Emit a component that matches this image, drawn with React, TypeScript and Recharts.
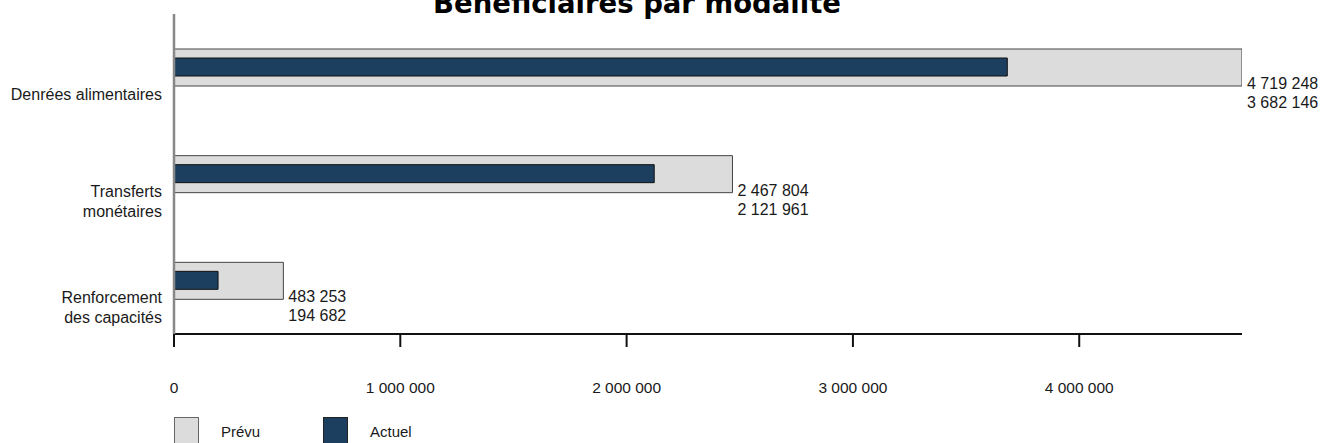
import React from 'react';
import { BarChart, Bar, XAxis, YAxis, Legend, LabelList } from 'recharts';

const categories: string[][] = [
  ['Denrées alimentaires'],
  ['Transferts', 'monétaires'],
  ['Renforcement', 'des capacités'],
];
const prevu: number[] = [4719248, 2467804, 483253];
const actuel: number[] = [3682146, 2121961, 194682];
const xTicks: number[] = [0, 1000000, 2000000, 3000000, 4000000];
const seriesNames = { prevu: 'Prévu', actuel: 'Actuel' };
const title = 'Bénéficiaires par modalité';

const rows = categories.map((c, i) => ({
  name: c.join(' '),
  lines: c,
  prevu: prevu[i],
  actuel: actuel[i],
}));

const FONT = '"Liberation Sans", Arial, sans-serif';
const PREVU_FILL = '#dcdcdc';
const ACTUEL_FILL = '#1d3f5f';

const fmt = (n: number) => String(Math.round(n)).replace(/\B(?=(\d{3})+(?!\d))/g, ' ');

const CategoryTick = (props: any) => {
  const { x, y, payload, index } = props;
  const lines: string[] = rows[index] ? rows[index].lines : [String(payload.value)];
  const lh = 20;
  const startY = y + 27 - ((lines.length - 1) * lh) / 2;
  return (
    <text x={x} textAnchor="end" fontFamily={FONT} fontSize={16} fill="#1a1a1a">
      {lines.map((l, i) => (
        <tspan key={i} x={x} y={startY + i * lh} dy="0.35em">
          {l}
        </tspan>
      ))}
    </text>
  );
};

const ValueLabels = (props: any) => {
  const { x, y, width, height, index } = props;
  const lx = x + width + 5;
  const cy = y + height / 2;
  return (
    <g fontFamily={FONT} fontSize={16} fill="#1a1a1a">
      <text x={lx} y={cy + 16} dy="0.35em">{fmt(prevu[index])}</text>
      <text x={lx} y={cy + 35} dy="0.35em">{fmt(actuel[index])}</text>
    </g>
  );
};

const LegendContent = () => (
  <div style={{ position: 'relative', height: 26, width: 300, fontFamily: FONT, fontSize: 15, color: '#1a1a1a' }}>
    <div style={{ position: 'absolute', left: 0, top: 0, width: 25, height: 30, boxSizing: 'border-box', background: PREVU_FILL, border: '1px solid #666' }} />
    <span style={{ position: 'absolute', left: 47, top: 6 }}>{seriesNames.prevu}</span>
    <div style={{ position: 'absolute', left: 149, top: 0, width: 25, height: 30, boxSizing: 'border-box', background: ACTUEL_FILL, border: '1px solid #222' }} />
    <span style={{ position: 'absolute', left: 196, top: 6 }}>{seriesNames.actuel}</span>
  </div>
);

export default function App() {
  return (
    <div style={{ position: 'absolute', left: 0, top: 0, width: 1322, height: 443, overflow: 'hidden', background: '#fff' }}>
      <BarChart
        width={1322}
        height={443}
        data={rows}
        layout="vertical"
        margin={{ top: 14, right: 80, bottom: 0, left: 8 }}
        barCategoryGap={0}
      >
        <XAxis
          type="number"
          domain={[0, 'dataMax']}
          ticks={xTicks}
          tickFormatter={fmt}
          axisLine={{ stroke: '#111', strokeWidth: 2 }}
          tickLine={{ stroke: '#111', strokeWidth: 2 }}
          tickSize={13}
          tickMargin={35}
          height={83}
          tick={{ fontFamily: FONT, fontSize: 15.5, fill: '#1a1a1a' }}
          allowDataOverflow
        />
        <YAxis
          yAxisId="a"
          type="category"
          dataKey="name"
          width={166}
          tickSize={0}
          tickMargin={12}
          tickLine={false}
          axisLine={{ stroke: '#888', strokeWidth: 2.5 }}
          tick={<CategoryTick />}
          interval={0}
        />
        <YAxis yAxisId="b" type="category" dataKey="name" hide />
        <Legend
          verticalAlign="bottom"
          align="left"
          content={<LegendContent />}
          wrapperStyle={{ left: 174, bottom: 0, height: 26, width: 300 }}
        />
        <Bar
          yAxisId="a"
          dataKey="prevu"
          name={seriesNames.prevu}
          fill={PREVU_FILL}
          stroke="#444"
          strokeWidth={1}
          barSize={37}
          isAnimationActive={false}
        >
          <LabelList dataKey="prevu" content={<ValueLabels />} />
        </Bar>
        <Bar
          yAxisId="b"
          dataKey="actuel"
          name={seriesNames.actuel}
          fill={ACTUEL_FILL}
          stroke="#111"
          strokeWidth={1}
          barSize={18}
          isAnimationActive={false}
        />
      </BarChart>
      <div
        style={{
          position: 'absolute',
          left: 637,
          top: -10.5,
          transform: 'translateX(-50%)',
          whiteSpace: 'nowrap',
          fontFamily: '"DejaVu Sans", "Liberation Sans", sans-serif',
          fontWeight: 'bold',
          fontSize: 27.5,
          lineHeight: '27.5px',
          color: '#000',
        }}
      >
        {title}
      </div>
    </div>
  );
}
